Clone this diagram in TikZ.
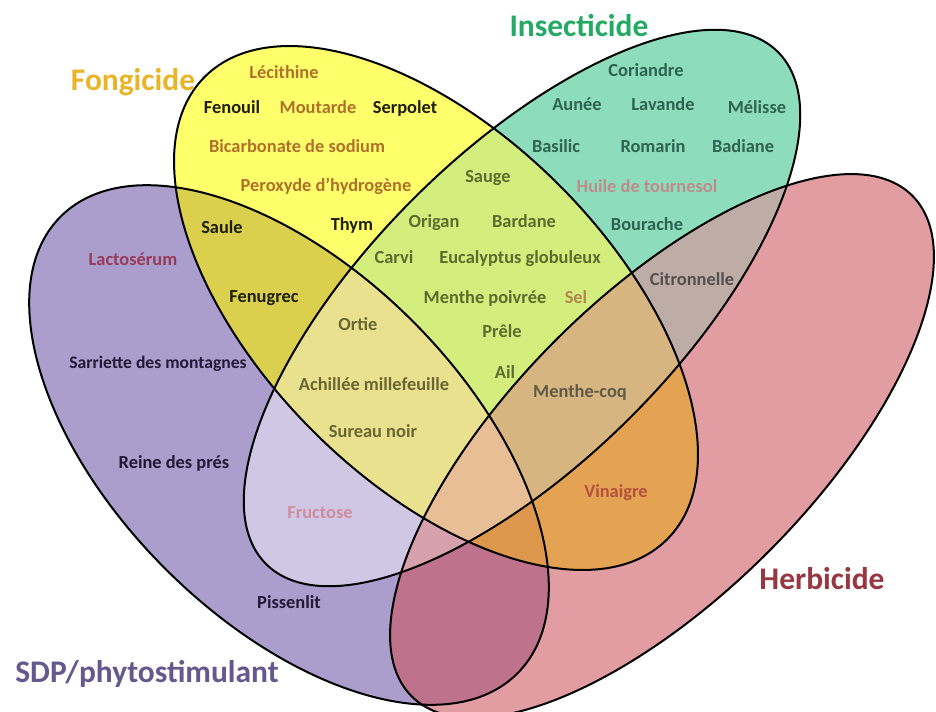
\documentclass[tikz,border=0pt]{standalone}
\usepackage{fontspec}
\setmainfont{Carlito}
\definecolor{cF}{RGB}{255,255,107}
\definecolor{cI}{RGB}{141,221,188}
\definecolor{cS}{RGB}{171,158,205}
\definecolor{cH}{RGB}{225,157,161}
\definecolor{cFI}{RGB}{212,238,125}
\definecolor{cFS}{RGB}{218,208,78}
\definecolor{cFH}{RGB}{228,163,82}
\definecolor{cIS}{RGB}{207,199,228}
\definecolor{cIH}{RGB}{190,173,166}
\definecolor{cSH}{RGB}{190,114,140}
\definecolor{cFIS}{RGB}{234,225,142}
\definecolor{cFIH}{RGB}{214,181,128}
\definecolor{cFSH}{RGB}{222,152,78}
\definecolor{cISH}{RGB}{214,160,172}
\definecolor{cFISH}{RGB}{232,190,150}
\definecolor{tF}{RGB}{232,180,40}
\definecolor{tI}{RGB}{36,170,100}
\definecolor{tH}{RGB}{150,55,65}
\definecolor{tS}{RGB}{100,88,140}
\definecolor{lBrown}{RGB}{176,112,42}
\definecolor{lBlack}{RGB}{30,30,10}
\definecolor{lGreen}{RGB}{88,110,45}
\definecolor{lOlive}{RGB}{104,102,52}
\definecolor{lSel}{RGB}{180,134,80}
\definecolor{lTeal}{RGB}{47,98,82}
\definecolor{lHuile}{RGB}{190,140,140}
\definecolor{lGrey}{RGB}{85,80,78}
\definecolor{lMc}{RGB}{95,90,70}
\definecolor{lVin}{RGB}{180,80,60}
\definecolor{lLact}{RGB}{150,60,90}
\definecolor{lNavy}{RGB}{35,25,55}
\definecolor{lFruc}{RGB}{210,140,160}
\newcommand\shF[1]{#1[rotate around={-45:(436,308)}] (436,308) ellipse [x radius=327, y radius=174];}
\newcommand\shI[1]{#1[rotate around={45:(522,308)}] (522,308) ellipse [x radius=362, y radius=154];}
\newcommand\shS[1]{#1[rotate around={-45:(289,445)}] (289,445) ellipse [x radius=323, y radius=175];}
\newcommand\shH[1]{#1[rotate around={45:(662,446)}] (662,446) ellipse [x radius=354, y radius=150];}
\begin{document}
\begin{tikzpicture}[x=0.75pt,y=-0.75pt,
  outl/.style={draw=black, line width=1.5pt},
  lab/.style={font=\fontsize{13.8}{16}\selectfont\bfseries, anchor=base, inner sep=0pt},
  ttl/.style={font=\fontsize{23.6}{28}\selectfont\bfseries, anchor=base, inner sep=0pt}]
\fill[white] (0,0) rectangle (936,711);
\clip (0,0) rectangle (936,711);
% single sets
\shS{\fill[cS]}
\shH{\fill[cH]}
\shF{\fill[cF]}
\shI{\fill[cI]}
% pairs
\begin{scope}\shF{\clip}\shI{\fill[cFI]}\end{scope}
\begin{scope}\shF{\clip}\shS{\fill[cFS]}\end{scope}
\begin{scope}\shF{\clip}\shH{\fill[cFH]}\end{scope}
\begin{scope}\shI{\clip}\shS{\fill[cIS]}\end{scope}
\begin{scope}\shI{\clip}\shH{\fill[cIH]}\end{scope}
\begin{scope}\shS{\clip}\shH{\fill[cSH]}\end{scope}
% triples
\begin{scope}\shF{\clip}\shI{\clip}\shS{\fill[cFIS]}\end{scope}
\begin{scope}\shF{\clip}\shI{\clip}\shH{\fill[cFIH]}\end{scope}
\begin{scope}\shF{\clip}\shS{\clip}\shH{\fill[cFSH]}\end{scope}
\begin{scope}\shI{\clip}\shS{\clip}\shH{\fill[cISH]}\end{scope}
% all four
\begin{scope}\shF{\clip}\shI{\clip}\shS{\clip}\shH{\fill[cFISH]}\end{scope}
% outlines
\shS{\draw[outl]}
\shH{\draw[outl]}
\shF{\draw[outl]}
\shI{\draw[outl]}
% titles
\node[ttl, text=tF] (tfong) at (133,90) {Fongicide};
\node[ttl, text=tI] (tinsec) at (579,36) {Insecticide};
\node[ttl, text=tH] (therb) at (822,589) {Herbicide};
\node[ttl, text=tS] (tsdp) at (147,682) {SDP/phytostimulant};
% Fongicide only
\node[lab, text=lBrown] (lecithine) at (284,78) {Lécithine};
\node[lab, text=lBlack] (fenouil) at (232,113) {Fenouil};
\node[lab, text=lBrown] (moutarde) at (318,113) {Moutarde};
\node[lab, text=lBlack] (serpolet) at (405,113) {Serpolet};
\node[lab, text=lBrown] (bicarb) at (297,152) {Bicarbonate de sodium};
\node[lab, text=lBrown] (peroxyde) at (326,191) {Peroxyde d’hydrogène};
\node[lab, text=lBlack] (thym) at (352,230) {Thym};
% Fongicide + SDP
\node[lab, text=lBlack] (saule) at (222,233) {Saule};
\node[lab, text=lBlack] (fenugrec) at (264,302) {Fenugrec};
% Fongicide + Insecticide
\node[lab, text=lGreen] (sauge) at (488,182) {Sauge};
\node[lab, text=lGreen] (origan) at (434,227) {Origan};
\node[lab, text=lGreen] (bardane) at (524,227) {Bardane};
\node[lab, text=lGreen] (carvi) at (394,263) {Carvi};
\node[lab, text=lGreen] (eucal) at (520,263) {Eucalyptus globuleux};
\node[lab, text=lGreen] (menthep) at (485,303) {Menthe poivrée};
\node[lab, text=lSel] (sel) at (576,303) {Sel};
\node[lab, text=lGreen] (prele) at (502,337) {Prêle};
\node[lab, text=lGreen] (ail) at (505,378) {Ail};
% F + I + S
\node[lab, text=lOlive] (ortie) at (358,330) {Ortie};
\node[lab, text=lOlive] (achillee) at (374,390) {Achillée millefeuille};
\node[lab, text=lOlive] (sureau) at (373,437) {Sureau noir};
% Insecticide only
\node[lab, text=lTeal] (coriandre) at (646,76) {Coriandre};
\node[lab, text=lTeal] (aunee) at (577,110) {Aunée};
\node[lab, text=lTeal] (lavande) at (663,110) {Lavande};
\node[lab, text=lTeal] (melisse) at (757,113) {Mélisse};
\node[lab, text=lTeal] (basilic) at (556,152) {Basilic};
\node[lab, text=lTeal] (romarin) at (653,152) {Romarin};
\node[lab, text=lTeal] (badiane) at (743,152) {Badiane};
\node[lab, text=lHuile] (huile) at (647,192) {Huile de tournesol};
\node[lab, text=lTeal] (bourache) at (647,230) {Bourache};
% I + H
\node[lab, text=lGrey] (citron) at (692,285) {Citronnelle};
% F + I + H
\node[lab, text=lMc] (menthecoq) at (580,397) {Menthe-coq};
% F + H
\node[lab, text=lVin] (vinaigre) at (616,497) {Vinaigre};
% SDP only
\node[lab, text=lLact] (lacto) at (133,265) {Lactosérum};
\node[lab, text=lNavy, font=\fontsize{13.2}{16}\selectfont\bfseries] (sarriette) at (158,368) {Sarriette des montagnes};
\node[lab, text=lNavy] (reine) at (174,468) {Reine des prés};
\node[lab, text=lNavy] (pissenlit) at (289,608) {Pissenlit};
% I + S
\node[lab, text=lFruc] (fructose) at (320,518) {Fructose};
\end{tikzpicture}
\end{document}
